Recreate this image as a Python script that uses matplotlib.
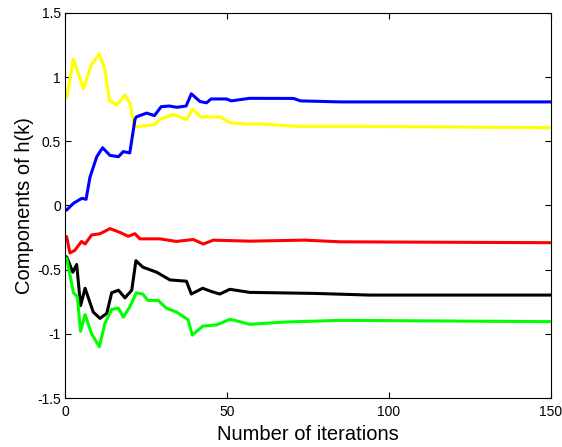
import matplotlib.pyplot as plt

plt.rcParams['font.family'] = ['Liberation Sans', 'DejaVu Sans']

# iteration / value pairs
yellow_x = [0, 0.5, 2.6, 5.7, 8.2, 10.6, 12.3, 13.7, 15.9, 18.5, 20, 21.5, 24, 27.6, 29.3,
            33.4, 37.5, 39.4, 42, 47.8, 50.9, 56, 60, 72.7, 94, 150]
yellow_y = [0.84, 0.84, 1.14, 0.91, 1.10, 1.18, 1.06, 0.82, 0.78, 0.86, 0.80, 0.61, 0.62, 0.63, 0.67,
            0.71, 0.67, 0.75, 0.69, 0.69, 0.645, 0.635, 0.635, 0.616, 0.616, 0.606]

blue_x = [0, 0.5, 2.6, 5.2, 6.5, 7.7, 9.8, 11.6, 13.9, 16.5, 18, 20, 21.6, 22, 25.2, 27.6, 29.7,
          32.2, 34.5, 37.4, 39, 41.7, 43.7, 45.1, 49.9, 51.3, 57, 70.6, 72.7, 85, 150]
blue_y = [-0.04, -0.035, 0.017, 0.056, 0.048, 0.22, 0.38, 0.45, 0.39, 0.38, 0.42, 0.41, 0.67, 0.69,
          0.72, 0.70, 0.77, 0.775, 0.765, 0.775, 0.87, 0.81, 0.80, 0.83, 0.83, 0.815, 0.835, 0.834,
          0.815, 0.807, 0.807]

red_x = [0, 0.5, 1.5, 3, 5.1, 6.2, 8.2, 10.8, 13.9, 17, 19.5, 21.6, 23.1, 29.3, 34.4, 39.6,
         42.7, 45.8, 57, 74, 85, 150]
red_y = [-0.24, -0.243, -0.37, -0.35, -0.28, -0.30, -0.23, -0.22, -0.18, -0.21, -0.24, -0.22,
         -0.26, -0.26, -0.28, -0.265, -0.30, -0.27, -0.278, -0.27, -0.283, -0.29]

black_x = [0, 0.5, 2.4, 3.6, 4.8, 6.2, 8.7, 10.8, 12.9, 14.4, 16.5, 18.5, 20.6, 21.9, 24, 28.3,
           32.4, 37.5, 39, 42.5, 45.2, 47.8, 50.9, 57, 77, 94, 150]
black_y = [-0.40, -0.40, -0.52, -0.46, -0.78, -0.645, -0.83, -0.88, -0.84, -0.68, -0.66, -0.72,
           -0.66, -0.43, -0.48, -0.52, -0.58, -0.59, -0.69, -0.645, -0.67, -0.69, -0.653, -0.677,
           -0.685, -0.698, -0.698]

green_x = [0, 0.5, 2.6, 3.8, 4.8, 6.2, 8.2, 10.6, 12.3, 14.4, 16.5, 18, 20, 22, 24, 25.6, 28.8,
           31.3, 34.4, 38, 39.3, 42.5, 46.8, 50.9, 54, 57, 68, 85, 150]
green_y = [-0.41, -0.41, -0.68, -0.71, -0.98, -0.85, -1.00, -1.10, -0.92, -0.81, -0.80, -0.87,
           -0.79, -0.68, -0.69, -0.74, -0.74, -0.80, -0.83, -0.89, -1.01, -0.94, -0.93, -0.887,
           -0.905, -0.926, -0.908, -0.895, -0.905]

fig = plt.figure(figsize=(5.62, 4.47), dpi=100)
ax = fig.add_axes([0.1157, 0.1096, 0.8643, 0.8614])

lw = 2.2
ax.plot(yellow_x, yellow_y, color='#ffff00', lw=lw)
ax.plot(blue_x, blue_y, color='#0000ff', lw=lw)
ax.plot(red_x, red_y, color='#ff0000', lw=lw)
ax.plot(black_x, black_y, color='black', lw=lw)
ax.plot(green_x, green_y, color='#00ff00', lw=lw)

ax.set_xlim(0, 150)
ax.set_ylim(-1.5, 1.5)
ax.set_xticks([0, 50, 100, 150])
ax.set_yticks([-1.5, -1, -0.5, 0, 0.5, 1, 1.5])
ax.set_yticklabels(['-1.5', '-1', '-0.5', '0', '0.5', '1', '1.5'])
ax.tick_params(direction='in', length=4, width=0.8, labelsize=10,
               top=True, right=True)
ax.tick_params(axis='x', pad=5)
ax.tick_params(axis='y', pad=3)
for s in ax.spines.values():
    s.set_linewidth(0.8)

ax.set_xlabel('Number of iterations', fontsize=14.5, labelpad=4)
ax.set_ylabel('Components of h(k)', fontsize=14.5, labelpad=2)

fig.savefig('out.png', dpi=100)
